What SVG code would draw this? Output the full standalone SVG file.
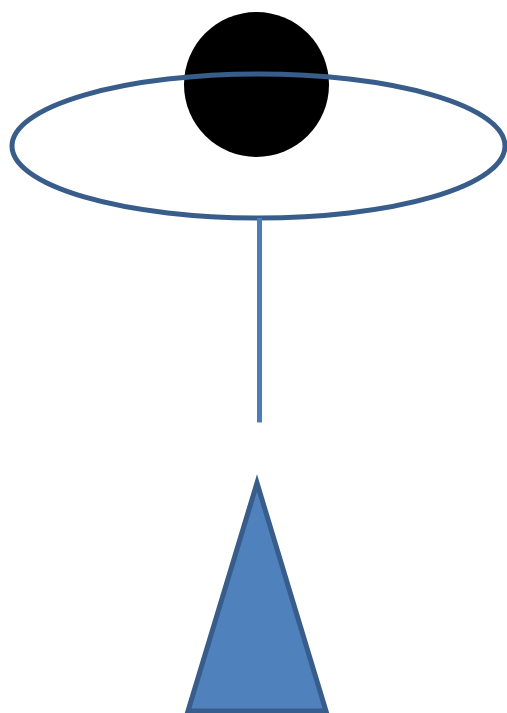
<svg xmlns="http://www.w3.org/2000/svg" width="507" height="713" viewBox="0 0 507 713">
<style>
.outline{fill:none;stroke:#385d8a;stroke-width:5}
.conn{stroke:#4a7ebb;stroke-width:5;fill:none}
.tri{fill:#4f81bd;stroke:#385d8a;stroke-width:5;stroke-linejoin:miter}
</style>
<rect width="507" height="713" fill="#ffffff"/>
<g id="ball"><circle cx="256.5" cy="84.5" r="72.5" fill="#000000"/></g>
<g id="ring"><ellipse class="outline" cx="258.5" cy="146" rx="246.5" ry="72"/></g>
<g id="connectors"><line class="conn" x1="259.5" y1="218" x2="259.5" y2="422.5"/></g>
<g id="triangle"><polygon class="tri" points="257,483 188,711 326,711"/></g>
</svg>
